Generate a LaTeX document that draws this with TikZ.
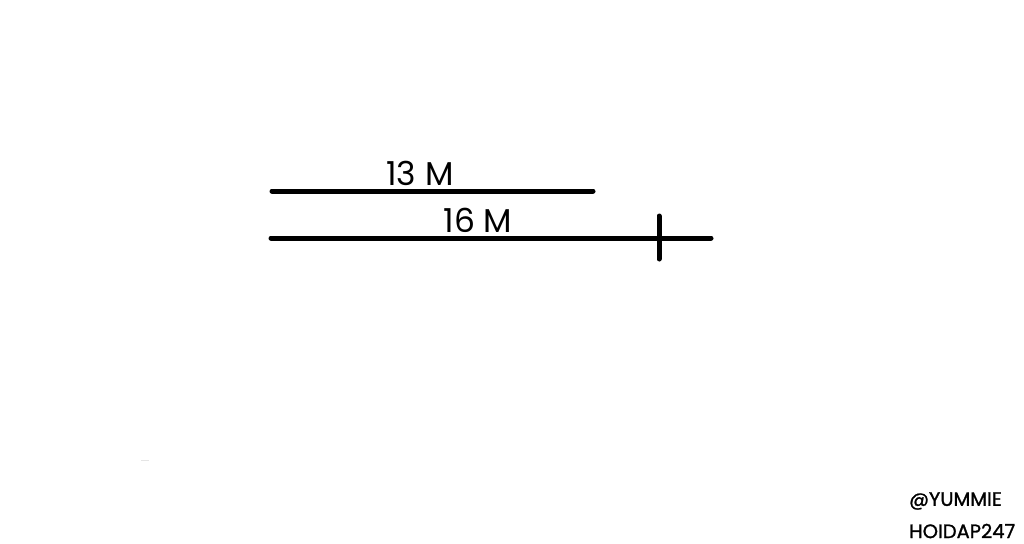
\documentclass[tikz,border=0pt]{standalone}
\usepackage{fontspec}
\setmainfont{Poppins}
\newfontfamily\markfont{Poppins}[FakeBold=1.2]
\usetikzlibrary{positioning}

\begin{document}
\begin{tikzpicture}[x=1pt, y=-1pt,
every node/.style={inner sep=0pt, text=black},
segment/.style={draw=black, line width=5pt, line cap=round},
length label/.style={font=\fontsize{33}{38}\selectfont},
mark label/.style={font=\markfont\fontsize{19.5}{22}\selectfont, anchor=west}
    ]
    \useasboundingbox (0,0) rectangle (1024,543);
    \coordinate (shortA) at (272,191);
    \coordinate (shortB) at (593,191);
    \coordinate (longA) at (271,238);
    \coordinate (longB) at (711,238);
    \coordinate (tickA) at (659,216);
    \coordinate (tickB) at (659,259);
    \draw[segment] (shortA) -- (shortB);
    \draw[segment] (longA) -- (longB);
    \draw[segment] (tickA) -- (tickB);
    \node[length label] (short) at (420,173) {13 M};
    \node[length label] (long) at (478,220) {16 M};
    \node[mark label] (handle) at (909,501) {@YUMMIE};
    \node[mark label] (site) at (909,531) {HOIDAP247};
    \coordinate (dashA) at (141,460);
    \coordinate (dashB) at (149,460);
    \draw[black!10, line width=1pt] (dashA) -- (dashB);
\end{tikzpicture}
\end{document}
